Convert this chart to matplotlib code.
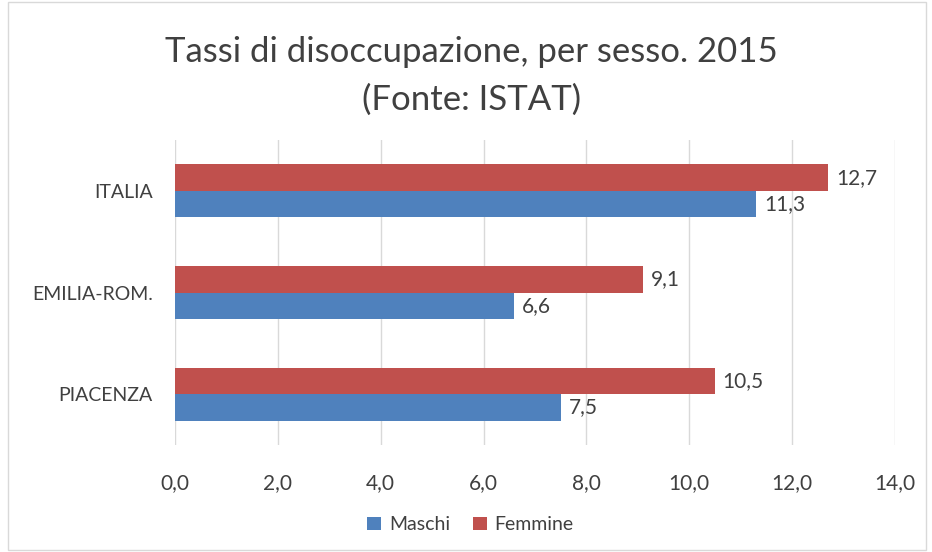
import matplotlib.pyplot as plt
import numpy as np
from matplotlib.patches import Rectangle

plt.rcParams['font.family'] = ['Lato', 'DejaVu Sans']

# Dati (ISTAT 2015)
categorie = ['PIACENZA', 'EMILIA-ROM.', 'ITALIA']
maschi = [7.5, 6.6, 11.3]
femmine = [10.5, 9.1, 12.7]
x_ticks = [0, 2, 4, 6, 8, 10, 12, 14]

col_m = '#4F81BD'
col_f = '#C0504D'
txt = '#404040'

fig = plt.figure(figsize=(9.32, 5.52), dpi=100)
ax = fig.add_axes([0.1878, 0.1938, 0.7725, 0.5525])

# cornice esterna
fig.patches.append(Rectangle((0.009, 0.004), 0.985, 0.992, transform=fig.transFigure,
                             fill=False, edgecolor='#D9D9D9', linewidth=1.0))

y = np.arange(len(categorie))
h = 0.26
b_m = ax.barh(y - h / 2, maschi, height=h, color=col_m, label='Maschi', zorder=3)
b_f = ax.barh(y + h / 2, femmine, height=h, color=col_f, label='Femmine', zorder=3)

for bars in (b_m, b_f):
    for bar in bars:
        w = bar.get_width()
        ax.text(w + 0.15, bar.get_y() + bar.get_height() / 2, f"{w:.1f}".replace('.', ','),
                va='center', ha='left', fontsize=15, color=txt)

ax.set_xlim(0, 14)
ax.set_ylim(-0.5, 2.5)
ax.set_xticks(x_ticks)
ax.set_xticklabels([f"{v:.1f}".replace('.', ',') for v in x_ticks], fontsize=15, color=txt)
ax.set_yticks(y)
ax.set_yticklabels(categorie, fontsize=14, color=txt)
ax.tick_params(length=0)
ax.tick_params(axis='x', pad=20)
ax.tick_params(axis='y', pad=16)
ax.grid(axis='x', color='#D9D9D9', linewidth=1.0, zorder=0)
for s in ax.spines.values():
    s.set_visible(False)

fig.text(0.506, 0.905, "Tassi di disoccupazione, per sesso. 2015", ha='center', va='center',
         fontsize=25, color=txt)
fig.text(0.506, 0.82, "(Fonte: ISTAT)", ha='center', va='center', fontsize=25, color=txt)

fig.legend(handles=[b_m, b_f], loc='center', bbox_to_anchor=(0.505, 0.049), ncol=2,
           frameon=False, fontsize=14, handlelength=0.7, handleheight=0.7,
           columnspacing=1.2, handletextpad=0.4, labelcolor=txt)

fig.savefig('out.png', dpi=100)
